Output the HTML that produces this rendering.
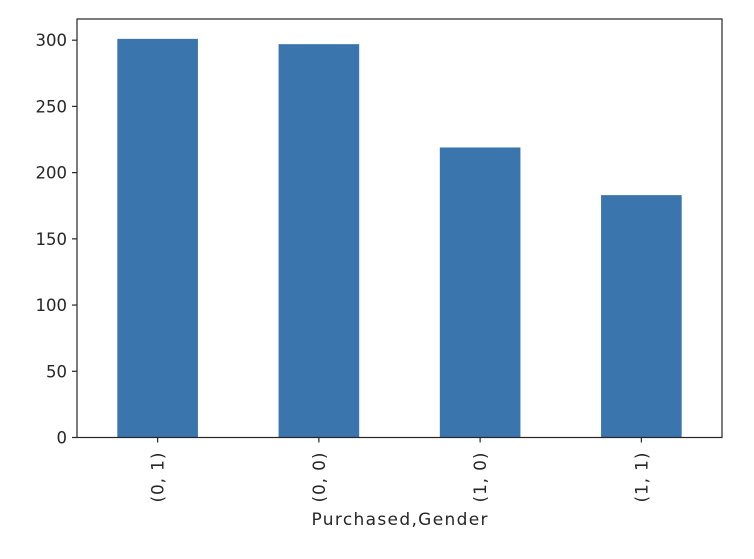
<!DOCTYPE html>
<html><head><meta charset="utf-8"><style>
body{margin:0;background:#fff;}
svg text{font-family:"DejaVu Sans","Liberation Sans",sans-serif;fill:#262626;}
</style></head><body>
<svg id="chart" width="754" height="554" xmlns="http://www.w3.org/2000/svg"></svg>
<script>
const categories = ["(0, 1)", "(0, 0)", "(1, 0)", "(1, 1)"];
const values = [301, 297, 219, 183];
const yTicks = [0, 50, 100, 150, 200, 250, 300];
const xTitle = "Purchased,Gender";

const svg = document.getElementById('chart');
const NS = 'http://www.w3.org/2000/svg';
const L = 77, R = 722, T = 19, B = 437.5;
const yMax = 316;
const y = v => B - v / yMax * (B - T);
const step = (R - L) / categories.length;
const x = i => L + step * (i + 0.5);
function mk(tag, attrs, name) {
  const e = document.createElementNS(NS, tag);
  for (const k in attrs) e.setAttribute(k, attrs[k]);
  
  
  svg.appendChild(e);
  return e;
}
values.forEach((v, i) => {
  const r = mk('rect', {x: x(i) - step / 4, y: y(v), width: step / 2, height: B - y(v), fill: '#3a75ae'}, 'bar-' + i);
  
});
yTicks.forEach(t => {
  mk('line', {x1: L - 5, x2: L, y1: y(t), y2: y(t), stroke: '#262626', 'stroke-width': 1.2}, 'y-tick');
  const tx = mk('text', {x: L - 10, y: y(t) + 6, 'text-anchor': 'end', 'font-size': 16.5}, 'y-tick-label');
  tx.textContent = t;
});
categories.forEach((c, i) => {
  mk('line', {x1: x(i), x2: x(i), y1: B, y2: B + 5, stroke: '#262626', 'stroke-width': 1.2}, 'x-tick');
  const tx = mk('text', {x: 0, y: 0, 'text-anchor': 'end', 'font-size': 17, 'textLength': 50, transform: `translate(${x(i) + 6},${B + 15}) rotate(-90)`}, 'x-tick-label');
  tx.textContent = c;
});
mk('rect', {x: L, y: T, width: R - L, height: B - T, fill: 'none', stroke: '#262626', 'stroke-width': 1.2}, 'plot-frame');
const xt = mk('text', {x: (L + R) / 2, y: 525, 'text-anchor': 'middle', 'font-size': 17, 'textLength': 176}, 'x-axis-title');
xt.textContent = xTitle;
</script>
</body></html>
